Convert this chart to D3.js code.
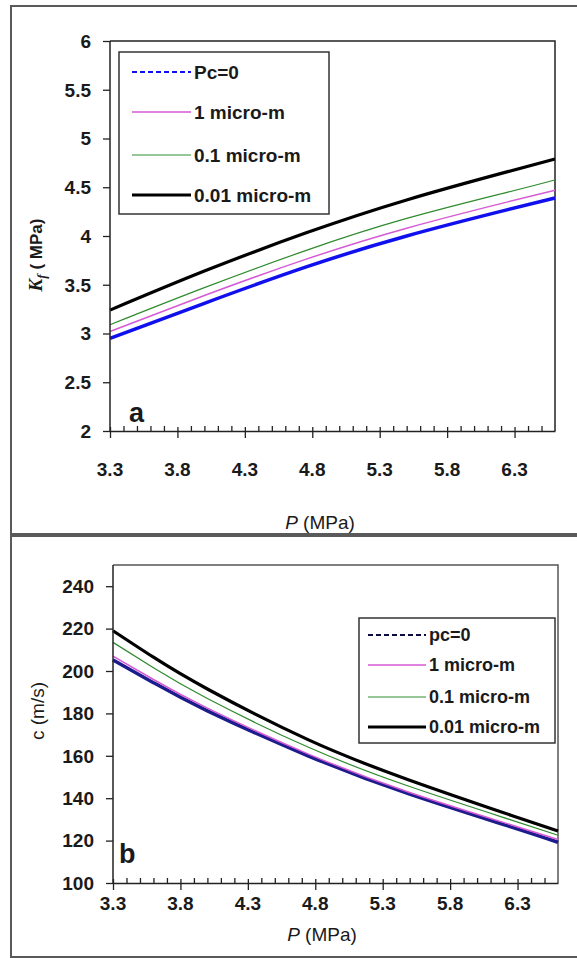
<!DOCTYPE html>
<html>
<head>
<meta charset="utf-8">
<script src="https://cdn.jsdelivr.net/npm/d3@7"></script>
<style>
  html, body { margin: 0; padding: 0; background: #fff; }
  svg { display: block; }
  text { font-family: "Liberation Sans", Arial, sans-serif; fill: #1a1a1a; }
</style>
</head>
<body>
<svg id="chart" width="577" height="958"></svg>
<script>
// ---------------- DATA ----------------
// Panel a: Kf (MPa) vs P (MPa)
const pTop = [3.3, 4.0, 4.75, 5.5, 6.25, 6.6];
const kfPc0    = [2.95, 3.31, 3.68, 4.00, 4.27, 4.39];
const kf1um    = [3.02, 3.39, 3.76, 4.08, 4.35, 4.47];
const kf01um   = [3.09, 3.47, 3.85, 4.18, 4.45, 4.575];
const kf001um  = [3.24, 3.64, 4.03, 4.37, 4.66, 4.79];
const namesTop = ["Pc=0", "1 micro-m", "0.1 micro-m", "0.01 micro-m"];

// Panel b: c (m/s) vs P (MPa)
const pBot = [3.3, 3.6, 4.0, 4.75, 5.5, 6.25, 6.6];
const cPc0   = [205.2, 194.5, 181.2, 159.9, 141.9, 126.5, 119.2];
const c1um   = [207.0, 196.0, 182.5, 160.8, 142.7, 127.5, 120.5];
const c01um  = [213.5, 201.5, 187.0, 164.0, 145.5, 129.8, 122.5];
const c001um = [219.0, 206.5, 191.5, 167.5, 148.5, 132.0, 124.5];
const namesBot = ["pc=0", "1 micro-m", "0.1 micro-m", "0.01 micro-m"];

// Axes ticks
const xMajorTicks = [3.3, 3.8, 4.3, 4.8, 5.3, 5.8, 6.3];
const xTickLabels = ["3.3", "3.8", "4.3", "4.8", "5.3", "5.8", "6.3"];
const xMinorTicks = [3.4,3.5,3.6,3.7,3.9,4.0,4.1,4.2,4.4,4.5,4.6,4.7,4.9,5.0,5.1,5.2,5.4,5.5,5.6,5.7,5.9,6.0,6.1,6.2,6.4,6.5];
const yTicksTop = [2, 2.5, 3, 3.5, 4, 4.5, 5, 5.5, 6];
const yTickLabelsTop = ["2", "2.5", "3", "3.5", "4", "4.5", "5", "5.5", "6"];
const yTicksBot = [100, 120, 140, 160, 180, 200, 220, 240];
const yTickLabelsBot = ["100", "120", "140", "160", "180", "200", "220", "240"];

// ---------------- DRAW ----------------
const svg = d3.select("#chart");
svg.append("rect").attr("width", 577).attr("height", 958).attr("fill", "#fff");

function panel(cfg) {
  const g = svg.append("g");
  // outer frame
  g.append("rect").attr("x", cfg.frame[0]).attr("y", cfg.frame[1])
    .attr("width", cfg.frame[2]).attr("height", cfg.frame[3])
    .attr("fill", "none").attr("stroke", "#5a5a5a").attr("stroke-width", 2);

  const x = d3.scaleLinear().domain(cfg.xDomain).range([cfg.left, cfg.right]);
  const y = d3.scaleLinear().domain(cfg.yDomain).range([cfg.bottom, cfg.top]);

  // plot area border (top/right)
  g.append("path")
    .attr("d", `M${cfg.left},${cfg.top}H${cfg.right}V${cfg.bottom}`)
    .attr("fill", "none").attr("stroke", cfg.borderColor).attr("stroke-width", 1.5);

  // series
  const line = d3.line().x(d => x(d[0])).y(d => y(d[1])).curve(d3.curveNatural);
  cfg.series.forEach(s => {
    g.append("path")
      .datum(cfg.xs.map((v, i) => [v, s.values[i]]))
      .attr("d", line)
      .attr("fill", "none")
      .attr("stroke", s.color)
      .attr("stroke-width", s.width)
      .attr("stroke-linejoin", "round");
  });

  // x axis: major ticks (outside) + inside part + minor ticks (inside)
  const xAxisG = g.append("g").attr("transform", `translate(0,${cfg.bottom})`);
  xAxisG.call(d3.axisBottom(x).tickValues(xMajorTicks).tickSize(7).tickSizeOuter(0).tickFormat(""));
  xAxisG.append("g").call(d3.axisBottom(x).tickValues(xMajorTicks).tickSize(-4).tickSizeOuter(0).tickFormat(""))
    .select(".domain").remove();
  xAxisG.append("g").call(d3.axisBottom(x).tickValues(xMinorTicks).tickSize(-5).tickSizeOuter(0).tickFormat(""))
    .select(".domain").remove();
  xAxisG.selectAll("path.domain").attr("stroke", "#222").attr("stroke-width", 1.5);
  xAxisG.selectAll(".tick line").attr("stroke", "#222").attr("stroke-width", 1.3);

  g.selectAll(".xlab").data(xMajorTicks).enter().append("text")
    .attr("x", d => x(d)).attr("y", cfg.bottom + cfg.xLabelOffset)
    .attr("text-anchor", "middle")
    .style("font-size", "19px").style("font-weight", "bold")
    .text((d, i) => xTickLabels[i]);

  // y axis
  const yAxisG = g.append("g").attr("transform", `translate(${cfg.left},0)`);
  yAxisG.call(d3.axisLeft(y).tickValues(cfg.yTicks).tickSize(7).tickSizeOuter(0).tickFormat(""));
  yAxisG.select(".domain").attr("stroke", "#222").attr("stroke-width", 1.5)
    .attr("d", `M0,${cfg.top}V${cfg.bottom}`);
  yAxisG.selectAll(".tick line").attr("stroke", "#222").attr("stroke-width", 1.3);

  g.selectAll(".ylab").data(cfg.yTicks).enter().append("text")
    .attr("x", cfg.left - 19).attr("y", d => y(d))
    .attr("dy", "0.36em")
    .attr("text-anchor", "end")
    .style("font-size", "19px").style("font-weight", "bold")
    .text((d, i) => cfg.yLabels[i]);

  // x title
  const xt = g.append("text").attr("x", cfg.xTitle[0]).attr("y", cfg.xTitle[1])
    .attr("text-anchor", "middle").style("font-size", "19px");
  xt.append("tspan").style("font-style", "italic").text("P");
  xt.append("tspan").text(" (MPa)");

  // panel letter
  g.append("text").attr("x", cfg.letter[0]).attr("y", cfg.letter[1])
    .style("font-size", "27px").style("font-weight", "bold").text(cfg.letter[2]);

  // legend
  const lg = g.append("g");
  lg.append("rect").attr("x", cfg.legend.x).attr("y", cfg.legend.y)
    .attr("width", cfg.legend.w).attr("height", cfg.legend.h)
    .attr("fill", "#fff").attr("stroke", "#333").attr("stroke-width", 1.5);
  cfg.series.forEach((s, i) => {
    const ry = cfg.legend.rows[i];
    lg.append("line").attr("x1", cfg.legend.s0).attr("x2", cfg.legend.s1)
      .attr("y1", ry).attr("y2", ry)
      .attr("stroke", s.legendColor || s.color)
      .attr("stroke-width", s.legendWidth)
      .attr("stroke-dasharray", s.dash || null);
    lg.append("text").attr("x", cfg.legend.tx).attr("y", ry).attr("dy", "0.36em")
      .style("font-size", cfg.legend.fs + "px").style("font-weight", "bold")
      .text(cfg.names[i]);
  });
  return g;
}

panel({
  frame: [11, 6, 620, 528],
  xDomain: [3.3, 6.6], yDomain: [2, 6],
  left: 110, right: 555, top: 41, bottom: 431,
  borderColor: "#222",
  xs: pTop,
  series: [
    { values: kfPc0,   color: "#1010ee", width: 3.5, legendWidth: 2, dash: "5,3" },
    { values: kf1um,   color: "#d65ad6", width: 1.5, legendWidth: 1.5 },
    { values: kf01um,  color: "#2e8b2e", width: 1.2, legendWidth: 1.2 },
    { values: kf001um, color: "#000000", width: 3.2, legendWidth: 3 }
  ],
  names: namesTop,
  yTicks: yTicksTop, yLabels: yTickLabelsTop,
  xLabelOffset: 45,
  xTitle: [320, 529],
  letter: [129, 422, "a"],
  legend: { x: 119, y: 52, w: 210, h: 162, rows: [72, 112, 155, 195], s0: 132, s1: 191, tx: 194, fs: 19 }
});

panel({
  frame: [11, 536, 620, 421],
  xDomain: [3.3, 6.6], yDomain: [100, 250],
  left: 113, right: 558, top: 565, bottom: 883,
  borderColor: "#555",
  xs: pBot,
  series: [
    { values: cPc0,   color: "#1c1c8c", width: 3.5, legendColor: "#0a0a40", legendWidth: 2, dash: "5,3" },
    { values: c1um,   color: "#d65ad6", width: 1.5, legendWidth: 1.5 },
    { values: c01um,  color: "#2e8b2e", width: 1.2, legendWidth: 1.2 },
    { values: c001um, color: "#000000", width: 3.2, legendWidth: 3 }
  ],
  names: namesBot,
  yTicks: yTicksBot, yLabels: yTickLabelsBot,
  xLabelOffset: 27,
  xTitle: [322, 941],
  letter: [119, 863, "b"],
  legend: { x: 359, y: 618, w: 196, h: 125, rows: [635, 665, 697, 727], s0: 368, s1: 426, tx: 429, fs: 18 }
});

// y axis titles
const kt = svg.append("text")
  .attr("transform", "translate(42,255) rotate(-90)")
  .attr("text-anchor", "middle").style("font-size", "17px").style("font-weight", "bold");
kt.append("tspan").style("font-family", "'Liberation Serif', serif").style("font-style", "italic")
  .style("font-size", "19px").text("K");
kt.append("tspan").style("font-family", "'Liberation Serif', serif").style("font-style", "italic")
  .style("font-size", "13px").attr("dy", "4").text("f");
kt.append("tspan").attr("dy", "-4").text(" ( MPa)");

svg.append("text")
  .attr("transform", "translate(44,711) rotate(-90)")
  .attr("text-anchor", "middle").style("font-size", "19px")
  .text("c (m/s)");
</script>
</body>
</html>
